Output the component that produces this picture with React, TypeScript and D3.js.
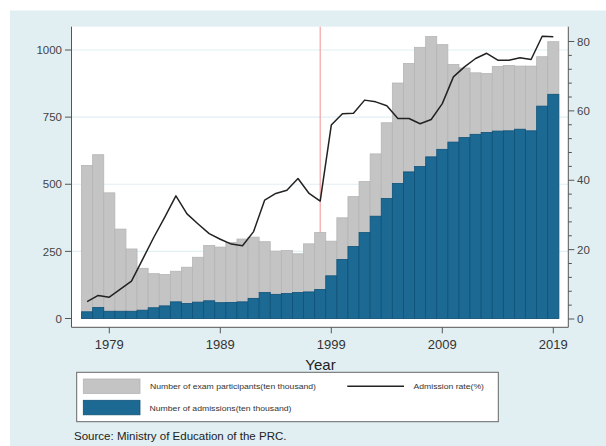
import React from "react";
import * as d3 from "d3";

const years = [1977,1978,1979,1980,1981,1982,1983,1984,1985,1986,1987,1988,1989,1990,1991,1992,1993,1994,1995,1996,1997,1998,1999,2000,2001,2002,2003,2004,2005,2006,2007,2008,2009,2010,2011,2012,2013,2014,2015,2016,2017,2018,2019];
const participants = [570,610,468,333,259,187,167,164,176,191,228,272,266,283,296,303,286,251,253,241,278,320,288,375,454,510,613,729,877,950,1010,1050,1020,946,933,915,912,939,942,940,940,975,1031];
const admissions = [25,41,27,27,27,31,40,47,62,56,61,66,59,60,62,75,97,90,93,97,99,108,159,220,268,320,381,447,503,546,566,602,630,657,674,686,693,698,699,705,699,791,835];
const admissionRate = [5.0,6.8,6.3,8.6,10.9,17.2,23.5,29.4,35.5,30.3,27.4,24.6,23.0,21.6,21.1,25.2,34.3,36.2,37.1,40.5,36.2,34.0,55.9,59.2,59.3,63.1,62.6,61.5,57.8,57.8,56.3,57.5,62.1,69.8,72.7,75.1,76.6,74.6,74.6,75.3,74.8,81.5,81.4];
const xTicks = [1979,1989,1999,2009,2019];
const leftTicks = [0,250,500,750,1000];
const rightTicks = [0,20,40,60,80];
const markerYear = 1998;

const FONT = "'Liberation Sans', Arial, Helvetica, sans-serif";

export default function App() {
  const W = 606, H = 446;
  const plot = { l: 71.5, r: 568.3, t: 26.7, b: 327.3 };
  const x = d3.scaleLinear().domain([1979, 2019]).range([109.3, 553.3]);
  const bw = x(1980) - x(1979);
  const yL = d3.scaleLinear().domain([0, 1000]).range([318.5, 50]);
  const yR = d3.scaleLinear().domain([0, 80]).range([319, 41.5]);
  const minorR = d3.range(0, 81, 4).filter((v) => v % 20 !== 0);

  const line = d3
    .line<number>()
    .x((_, i) => x(years[i]))
    .y((d) => yR(d));

  return (
    <svg width={W} height={H} style={{ position: "absolute", left: 0, top: 0 }} fontFamily={FONT}>
      <rect x={0} y={0} width={W} height={H} fill="#ffffff" />
      <rect x={10} y={10.5} width={W - 10} height={H - 10.5} fill="#e1eff2" />
      <rect x={plot.l} y={plot.t} width={plot.r - plot.l} height={plot.b - plot.t} fill="#ffffff" />
      {leftTicks.slice(1).map((v) => (
        <line key={"g" + v} x1={plot.l} x2={plot.r} y1={yL(v)} y2={yL(v)} stroke="#e2eff4" strokeWidth={1.2} />
      ))}
      <line x1={x(markerYear)} x2={x(markerYear)} y1={plot.t} y2={yL(0)} stroke="#f3a3a3" strokeWidth={1.2} />
      {years.map((yr, i) => (
        <rect key={"p" + yr} x={x(yr) - bw / 2} y={yL(participants[i])} width={bw} height={yL(0) - yL(participants[i])} fill="#c4c4c4" stroke="#b5b5b5" strokeWidth={0.8} />
      ))}
      {years.map((yr, i) => (
        <rect key={"a" + yr} x={x(yr) - bw / 2} y={yL(admissions[i])} width={bw} height={yL(0) - yL(admissions[i])} fill="#1c6a94" stroke="#0f5279" strokeWidth={0.8} />
      ))}
      <path d={line(admissionRate) || ""} fill="none" stroke="#222222" strokeWidth={1.5} strokeLinejoin="round" />
      {/* axes */}
      <line x1={plot.l} x2={plot.l} y1={plot.t} y2={plot.b} stroke="#555" strokeWidth={1} />
      <line x1={plot.l} x2={plot.r} y1={plot.b} y2={plot.b} stroke="#555" strokeWidth={1} />
      <line x1={plot.r} x2={plot.r} y1={plot.t} y2={plot.b} stroke="#555" strokeWidth={1} />
      {leftTicks.map((v) => (
        <g key={"lt" + v}>
          <line x1={65} x2={plot.l} y1={yL(v)} y2={yL(v)} stroke="#555" />
          <text x={62} y={yL(v)} dy="0.36em" textAnchor="end" fontSize={11.5} fill="#444">{v}</text>
        </g>
      ))}
      {rightTicks.map((v) => (
        <g key={"rt" + v}>
          <line x1={plot.r} x2={plot.r + 6} y1={yR(v)} y2={yR(v)} stroke="#555" />
          <text x={577} y={yR(v)} dy="0.36em" textAnchor="start" fontSize={11.5} fill="#444">{v}</text>
        </g>
      ))}
      {minorR.map((v) => (
        <line key={"mr" + v} x1={plot.r} x2={plot.r + 3.5} y1={yR(v)} y2={yR(v)} stroke="#555" />
      ))}
      {xTicks.map((v) => (
        <g key={"xt" + v}>
          <line x1={x(v)} x2={x(v)} y1={plot.b} y2={plot.b + 6} stroke="#555" />
          <text x={x(v)} y={349} textAnchor="middle" fontSize={13} fill="#333">{v}</text>
        </g>
      ))}
      <text x={320.5} y={369.5} textAnchor="middle" fontSize={15} fill="#222">Year</text>
      {/* legend */}
      <rect x={76.7} y={372.3} width={421.6} height={49.4} fill="#ffffff" stroke="#666" strokeWidth={1} />
      <rect x={83.3} y={379} width={56.7} height={14.5} fill="#c4c4c4" stroke="#b5b5b5" strokeWidth={0.8} />
      <rect x={83.3} y={400.3} width={56.7} height={14.5} fill="#1c6a94" stroke="#0f5279" strokeWidth={0.8} />
      <text x={150} y={389.2} fontSize={7.5} fill="#333" textLength={166} lengthAdjust="spacingAndGlyphs">Number of exam participants(ten thousand)</text>
      <text x={149.5} y={411} fontSize={7.5} fill="#333" textLength={142} lengthAdjust="spacingAndGlyphs">Number of admissions(ten thousand)</text>
      <line x1={347.3} x2={404} y1={386.3} y2={386.3} stroke="#222" strokeWidth={1.5} />
      <text x={413.5} y={389.2} fontSize={7.5} fill="#333" textLength={70.5} lengthAdjust="spacingAndGlyphs">Admission rate(%)</text>
      <text x={74} y={440} fontSize={11.5} fill="#222" textLength={212.5} lengthAdjust="spacingAndGlyphs">Source: Ministry of Education of the PRC.</text>
    </svg>
  );
}
